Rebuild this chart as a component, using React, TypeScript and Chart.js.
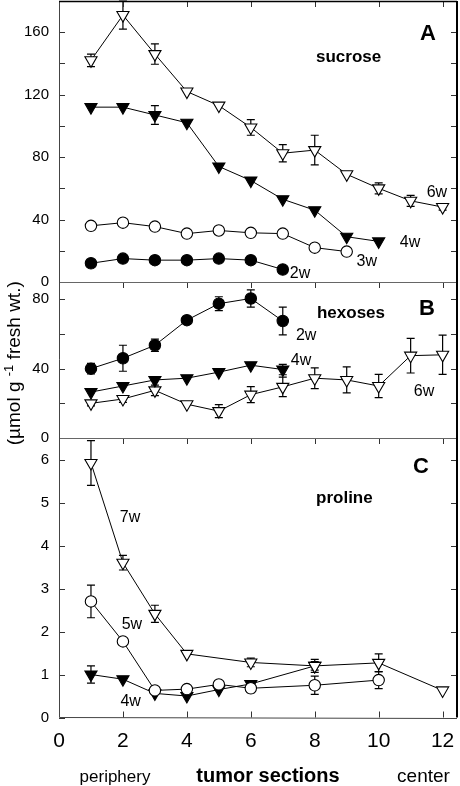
import React, { useEffect, useRef } from "react";
import { Chart, registerables } from "chart.js";

Chart.register(...registerables);

const FONT = "'Liberation Sans', Arial, Helvetica, sans-serif";

// ---- x axis ----
const xTicks = [0, 2, 4, 6, 8, 10, 12];

// ---- Panel A: sucrose ----
const sucX6w = [1, 2, 3, 4, 5, 6, 7, 8, 9, 10, 11, 12];
const suc6w = [142, 171, 146, 122, 113, 99, 82.5, 84.5, 69, 60, 52, 48];
const suc6wErr = [4, 9, 6.5, 0, 0, 5, 5.5, 9.5, 0, 3.5, 3.5, 2];
const sucX4w = [1, 2, 3, 4, 5, 6, 7, 8, 9, 10];
const suc4w = [112, 112, 107, 102, 74, 65, 53, 46, 29, 26];
const suc4wErr = [0, 0, 6, 0, 0, 0, 0, 0, 0, 0];
const sucX3w = [1, 2, 3, 4, 5, 6, 7, 8, 9];
const suc3w = [36, 38, 35.5, 31, 33, 31.5, 31, 22, 19.5];
const sucX2w = [1, 2, 3, 4, 5, 6, 7];
const suc2w = [12, 15, 14, 14, 15, 14, 8];
const ticksA = [0, 40, 80, 120, 160];
const minorA = [20, 60, 100, 140];

// ---- Panel B: hexoses ----
const hexX2w = [1, 2, 3, 4, 5, 6, 7];
const hex2w = [40, 46, 53.5, 68, 77.5, 80.5, 67.5];
const hex2wErr = [3, 7.5, 3.5, 1.5, 4, 5, 8];
const hexX4w = [1, 2, 3, 4, 5, 6, 7];
const hex4w = [26.5, 30, 33.5, 34.5, 38, 42, 39.5];
const hex4wErr = [0, 0, 0, 0, 0, 0, 3];
const hexX6w = [1, 2, 3, 4, 5, 6, 7, 8, 9, 10, 11, 12];
const hex6w = [20, 22.5, 27.5, 19.5, 15.5, 25, 29.5, 34.5, 33.5, 30, 47.5, 48];
const hex6wErr = [1.5, 2, 3, 0, 3.7, 4.6, 5.6, 6, 7.5, 6.7, 10, 11.3];
const ticksB = [0, 40, 80];
const minorB = [20, 60];

// ---- Panel C: proline ----
const proX7w = [1, 2, 3, 4, 6, 8, 10, 12];
const pro7w = [5.92, 3.6, 2.41, 1.48, 1.28, 1.2, 1.27, 0.63];
const pro7wErr = [0.52, 0.17, 0.2, 0, 0.1, 0.1, 0.21, 0];
const proX5w = [1, 2, 3, 4, 5, 6, 8, 10];
const pro5w = [2.7, 1.77, 0.63, 0.66, 0.77, 0.68, 0.75, 0.87];
const pro5wErr = [0.38, 0, 0, 0, 0.08, 0.1, 0.21, 0.2];
const proX4w = [1, 2, 3, 4, 5, 6, 8];
const pro4w = [1.0, 0.89, 0.56, 0.5, 0.65, 0.78, 1.2];
const pro4wErr = [0.2, 0, 0, 0, 0, 0, 0.15];
const ticksC = [0, 1, 2, 3, 4, 5, 6];
const minorC: number[] = [];

// ---- text annotations (data coordinates) ----
const curveLabels = [
  { axis: "yA", x: 11.82, y: 57.4, text: "6w" },
  { axis: "yA", x: 10.98, y: 25.5, text: "4w" },
  { axis: "yA", x: 9.63, y: 13.3, text: "3w" },
  { axis: "yA", x: 7.54, y: 5.3, text: "2w" },
  { axis: "yB", x: 7.73, y: 59, text: "2w" },
  { axis: "yB", x: 7.57, y: 44.7, text: "4w" },
  { axis: "yB", x: 11.42, y: 26.8, text: "6w" },
  { axis: "yC", x: 2.22, y: 4.65, text: "7w" },
  { axis: "yC", x: 2.28, y: 2.15, text: "5w" },
  { axis: "yC", x: 2.24, y: 0.38, text: "4w" },
];
const panelNames = [
  { axis: "yA", x: 8.04, y: 144, text: "sucrose" },
  { axis: "yB", x: 8.07, y: 71.7, text: "hexoses" },
  { axis: "yC", x: 8.04, y: 5.1, text: "proline" },
];
const panelLetters = [
  { axis: "yA", x: 11.54, y: 158.9, text: "A" },
  { axis: "yB", x: 11.51, y: 74.5, text: "B" },
  { axis: "yC", x: 11.32, y: 5.83, text: "C" },
];

const pts = (xs: number[], ys: number[]) => xs.map((x, i) => ({ x, y: ys[i] }));

function series(
  axis: string,
  xs: number[],
  ys: number[],
  errs: number[] | null,
  shape: "circle" | "triangle",
  filled: boolean
) {
  return {
    data: pts(xs, ys),
    yAxisID: axis,
    errors: errs,
    borderColor: "#000",
    borderWidth: 1,
    pointStyle: shape,
    pointRotation: shape === "triangle" ? 180 : 0,
    pointRadius: shape === "triangle" ? 7 : 5.7,
    pointBackgroundColor: filled ? "#000" : "#fff",
    pointBorderColor: "#000",
    pointBorderWidth: 1.1,
    tension: 0,
    fill: false,
  };
}

const errorBarPlugin = {
  id: "errorBars",
  beforeDatasetsDraw(chart: any) {
    const ctx = chart.ctx;
    const xs = chart.scales.x;
    ctx.save();
    ctx.strokeStyle = "#000";
    ctx.lineWidth = 1.2;
    chart.data.datasets.forEach((ds: any) => {
      if (!ds.errors) return;
      const ys = chart.scales[ds.yAxisID];
      ds.data.forEach((p: any, i: number) => {
        const e = ds.errors[i];
        if (!e) return;
        const px = xs.getPixelForValue(p.x);
        const top = Math.max(ys.getPixelForValue(p.y + e), ys.top);
        const bot = Math.min(ys.getPixelForValue(p.y - e), ys.bottom);
        ctx.beginPath();
        ctx.moveTo(px, top);
        ctx.lineTo(px, bot);
        ctx.moveTo(px - 4, top);
        ctx.lineTo(px + 4, top);
        ctx.moveTo(px - 4, bot);
        ctx.lineTo(px + 4, bot);
        ctx.stroke();
      });
    });
    ctx.restore();
  },
};

const framePlugin = {
  id: "frame",
  afterDraw(chart: any) {
    const ctx = chart.ctx;
    const area = chart.chartArea;
    const xs = chart.scales.x;
    const panels = [
      { s: chart.scales.yA, major: ticksA, minor: minorA },
      { s: chart.scales.yB, major: ticksB, minor: minorB },
      { s: chart.scales.yC, major: ticksC, minor: minorC },
    ];
    ctx.save();
    const T = 6;
    // y ticks (inward, left and right)
    ctx.strokeStyle = "#333";
    ctx.lineWidth = 1;
    panels.forEach(({ s, major, minor }) => {
      [...major, ...minor].forEach((v) => {
        const py = Math.round(s.getPixelForValue(v)) + 0.5;
        ctx.beginPath();
        ctx.moveTo(area.left, py);
        ctx.lineTo(area.left + T, py);
        ctx.moveTo(area.right, py);
        ctx.lineTo(area.right - T, py);
        ctx.stroke();
      });
    });
    // x ticks: downward from each panel top, upward from bottom
    xTicks.forEach((v) => {
      if (v === 0) return;
      const px = Math.round(xs.getPixelForValue(v)) + 0.5;
      panels.forEach(({ s }) => {
        ctx.beginPath();
        ctx.moveTo(px, s.top);
        ctx.lineTo(px, s.top + T);
        ctx.stroke();
      });
      ctx.beginPath();
      ctx.moveTo(px, area.bottom);
      ctx.lineTo(px, area.bottom - T);
      ctx.stroke();
    });
    // panel dividers
    ctx.strokeStyle = "#666";
    ctx.lineWidth = 1;
    [chart.scales.yA.bottom, chart.scales.yB.bottom].forEach((y: number) => {
      ctx.beginPath();
      ctx.moveTo(area.left, Math.round(y) + 0.5);
      ctx.lineTo(area.right, Math.round(y) + 0.5);
      ctx.stroke();
    });
    // left axis and bottom axis
    ctx.strokeStyle = "#444";
    ctx.beginPath();
    ctx.moveTo(Math.round(area.left) + 0.5, area.top);
    ctx.lineTo(Math.round(area.left) + 0.5, area.bottom);
    ctx.lineTo(area.right, Math.round(area.bottom) + 0.5);
    ctx.stroke();
    // top & right border
    ctx.strokeStyle = "#000";
    ctx.lineWidth = 1.3;
    ctx.beginPath();
    ctx.moveTo(area.left, area.top + 0.5);
    ctx.lineTo(area.right, area.top + 0.5);
    ctx.stroke();
    ctx.lineWidth = 2;
    ctx.beginPath();
    ctx.moveTo(area.right, area.top);
    ctx.lineTo(area.right, area.bottom);
    ctx.stroke();

    // texts
    ctx.fillStyle = "#000";
    ctx.textBaseline = "middle";
    ctx.textAlign = "center";
    ctx.font = `16px ${FONT}`;
    curveLabels.forEach((l) => {
      ctx.fillText(l.text, xs.getPixelForValue(l.x), chart.scales[l.axis].getPixelForValue(l.y));
    });
    ctx.textAlign = "left";
    ctx.font = `bold 17px ${FONT}`;
    panelNames.forEach((l) => {
      ctx.fillText(l.text, xs.getPixelForValue(l.x), chart.scales[l.axis].getPixelForValue(l.y));
    });
    ctx.textAlign = "center";
    ctx.font = `bold 22px ${FONT}`;
    panelLetters.forEach((l) => {
      ctx.fillText(l.text, xs.getPixelForValue(l.x), chart.scales[l.axis].getPixelForValue(l.y));
    });

    // x axis bottom captions
    const base = area.bottom + 64;
    ctx.textBaseline = "alphabetic";
    ctx.font = `17px ${FONT}`;
    ctx.fillText("periphery", area.left + 56, base);
    ctx.font = `19px ${FONT}`;
    ctx.fillText("center", area.left + 364.5, base);
    ctx.font = `bold 20px ${FONT}`;
    ctx.fillText("tumor sections", area.left + 209, base);

    // y axis title (rotated) with superscript
    const mainFont = `19px ${FONT}`;
    const supFont = `13px ${FONT}`;
    const parts = [
      { t: "(\u00B5mol g ", f: mainFont, dy: 0 },
      { t: "-1", f: supFont, dy: -7 },
      { t: " fresh wt.)", f: mainFont, dy: 0 },
    ];
    let total = 0;
    parts.forEach((p) => {
      ctx.font = p.f;
      total += ctx.measureText(p.t).width;
    });
    const cy = (area.top + area.bottom) / 2 + 4;
    ctx.translate(20, cy);
    ctx.rotate(-Math.PI / 2);
    ctx.textAlign = "left";
    ctx.textBaseline = "alphabetic";
    let cx = -total / 2;
    parts.forEach((p) => {
      ctx.font = p.f;
      ctx.fillText(p.t, cx, p.dy);
      cx += ctx.measureText(p.t).width;
    });
    ctx.restore();
  },
};

function yScale(weight: number, max: number, ticks: number[]) {
  return {
    type: "linear" as const,
    position: "left" as const,
    stack: "panels",
    stackWeight: weight,
    min: 0,
    max,
    afterBuildTicks: (s: any) => {
      s.ticks = ticks.map((v) => ({ value: v }));
    },
    afterFit: (s: any) => {
      s.width = 59;
      s.paddingTop = 0;
      s.paddingBottom = 0;
    },
    ticks: {
      autoSkip: false,
      padding: 10,
      color: "#000",
      font: { size: 15, family: FONT },
    },
    grid: { display: false, drawTicks: false },
    border: { display: false },
  };
}

export default function App() {
  const ref = useRef<HTMLCanvasElement | null>(null);
  useEffect(() => {
    if (!ref.current) return;
    const chart = new Chart(ref.current, {
      type: "line",
      data: {
        datasets: [
          series("yA", sucX6w, suc6w, suc6wErr, "triangle", false),
          series("yA", sucX4w, suc4w, suc4wErr, "triangle", true),
          series("yA", sucX3w, suc3w, null, "circle", false),
          series("yA", sucX2w, suc2w, null, "circle", true),
          series("yB", hexX2w, hex2w, hex2wErr, "circle", true),
          series("yB", hexX4w, hex4w, hex4wErr, "triangle", true),
          series("yB", hexX6w, hex6w, hex6wErr, "triangle", false),
          series("yC", proX7w, pro7w, pro7wErr, "triangle", false),
          series("yC", proX5w, pro5w, pro5wErr, "circle", false),
          series("yC", proX4w, pro4w, pro4wErr, "triangle", true),
        ] as any,
      },
      options: {
        responsive: false,
        animation: false,
        events: [],
        layout: { autoPadding: false, padding: { top: 1, right: 3, left: 0, bottom: 0 } },
        plugins: { legend: { display: false }, tooltip: { enabled: false } },
        scales: {
          x: {
            type: "linear",
            position: "bottom",
            min: 0,
            max: 12.45,
            afterBuildTicks: (s: any) => {
              s.ticks = xTicks.map((v) => ({ value: v }));
            },
            afterFit: (s: any) => {
              s.height = 68.5;
              s.paddingLeft = 0;
              s.paddingRight = 0;
            },
            ticks: {
              autoSkip: false,
              maxRotation: 0,
              padding: 11,
              color: "#000",
              font: { size: 21, family: FONT },
            },
            grid: { display: false, drawTicks: false },
            border: { display: false },
          },
          yC: yScale(279.5, 6.5, ticksC),
          yB: yScale(156, 90, ticksB),
          yA: yScale(281, 180, ticksA),
        } as any,
      },
      plugins: [errorBarPlugin, framePlugin],
    });
    return () => chart.destroy();
  }, []);
  return (
    <div style={{ position: "absolute", left: 0, top: 0, width: 460, height: 786, background: "#fff" }}>
      <canvas ref={ref} width={460} height={786} style={{ display: "block", width: 460, height: 786 }} />
    </div>
  );
}
